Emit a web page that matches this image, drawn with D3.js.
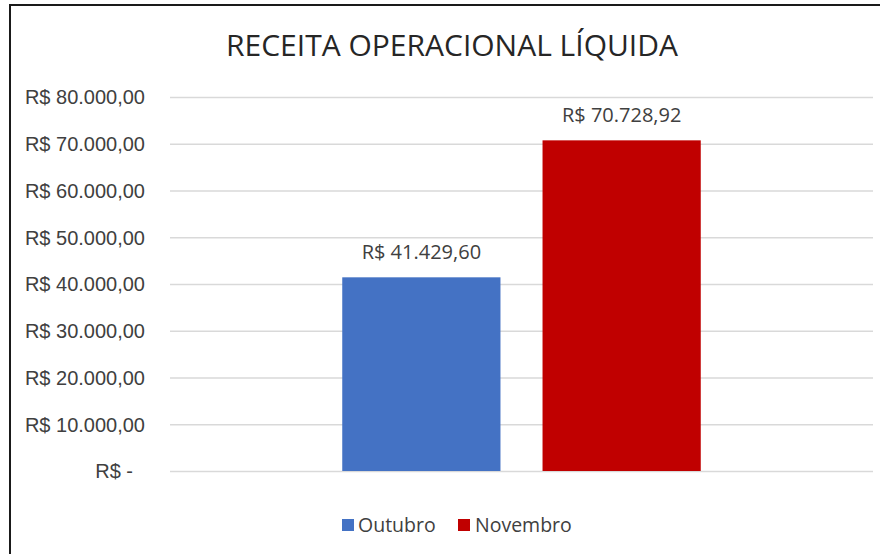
<!DOCTYPE html>
<html>
<head>
<meta charset="utf-8">
<script src="https://cdn.jsdelivr.net/npm/d3@7"></script>
<style>
  html, body { margin: 0; padding: 0; background: #fff; }
  svg { display: block; font-family: "Open Sans", "Noto Sans", sans-serif; }
</style>
</head>
<body>
<svg id="chart" width="880" height="554"></svg>
<script>
// Receita operacional líquida por mês
const titleText = "RECEITA OPERACIONAL LÍQUIDA";
const series = ["Outubro", "Novembro"];
const values = [41429.60, 70728.92];
const colors = ["#4472C4", "#C00000"];
const tickValues = [0, 10000, 20000, 30000, 40000, 50000, 60000, 70000, 80000];

const fmtNum = new Intl.NumberFormat("pt-BR", { minimumFractionDigits: 2, maximumFractionDigits: 2 });
const money = v => v === 0 ? "R$ -" : "R$ " + fmtNum.format(v);

const svg = d3.select("#chart");
const W = 880, H = 554;

// chart frame (only top and left edges fall inside the view)
svg.append("rect")
  .attr("x", 10).attr("y", 5)
  .attr("width", W + 20).attr("height", H + 20)
  .attr("fill", "#fff")
  .attr("stroke", "#1a1a1a").attr("stroke-width", 2);

const plot = { left: 170, right: 873, top: 97, bottom: 471 };

const y = d3.scaleLinear().domain([0, 80000]).range([plot.bottom, plot.top]);
const x = d3.scaleBand().domain(series)
  .range([plot.left, plot.right])
  .paddingInner(0.21).paddingOuter(0.86);

// title
svg.append("text")
  .attr("x", 452).attr("y", 56)
  .attr("text-anchor", "middle")
  .attr("font-size", 30)
  .attr("fill", "#262626")
  .text(titleText);

// y axis with gridlines
const yAxis = d3.axisLeft(y)
  .tickValues(tickValues)
  .tickSize(-(plot.right - plot.left))
  .tickPadding(25)
  .tickFormat(money);

const gy = svg.append("g")
  .attr("transform", `translate(${plot.left},0)`)
  .call(yAxis);
gy.select(".domain").remove();
gy.selectAll(".tick line").attr("stroke", "#d9d9d9").attr("stroke-width", 1.5);
gy.selectAll(".tick text")
  .attr("font-size", 20)
  .attr("fill", "#404040")
  .attr("dy", "0.34em")
  .attr("x", d => d === 0 ? -37 : -25);

// bars
svg.append("g").selectAll("rect")
  .data(series)
  .join("rect")
  .attr("x", d => x(d))
  .attr("width", x.bandwidth())
  .attr("y", (d, i) => y(values[i]))
  .attr("height", (d, i) => y(0) - y(values[i]))
  .attr("fill", (d, i) => colors[i]);

// data labels
svg.append("g").selectAll("text")
  .data(series)
  .join("text")
  .attr("x", d => x(d) + x.bandwidth() / 2)
  .attr("y", (d, i) => y(values[i]) - 18)
  .attr("text-anchor", "middle")
  .attr("font-size", 20)
  .attr("fill", "#404040")
  .text((d, i) => money(values[i]));

// legend
const legendItems = [
  { name: series[0], color: colors[0], sx: 342, tx: 358 },
  { name: series[1], color: colors[1], sx: 458, tx: 475 }
];
const lg = svg.append("g");
lg.selectAll("rect")
  .data(legendItems)
  .join("rect")
  .attr("x", d => d.sx).attr("y", 519)
  .attr("width", 12).attr("height", 12)
  .attr("fill", d => d.color);
lg.selectAll("text")
  .data(legendItems)
  .join("text")
  .attr("x", d => d.tx).attr("y", 532)
  .attr("font-size", 19.5)
  .attr("fill", "#404040")
  .text(d => d.name);
</script>
</body>
</html>
